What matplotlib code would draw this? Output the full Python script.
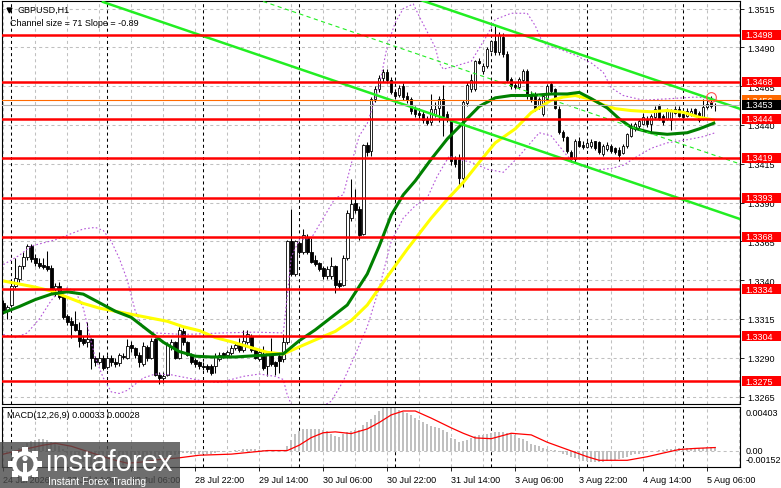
import numpy as np
import matplotlib
matplotlib.use('Agg')
import matplotlib.pyplot as plt
from matplotlib.patches import Rectangle, Circle

plt.rcParams['font.family'] = ['Liberation Sans', 'DejaVu Sans']
plt.rcParams['lines.scale_dashes'] = False

# ─── Candles: GBPUSD H1, 24 Jul 22:00 -> 5 Aug 08:00 (pips above 1.3000) ──────
BASE = 1.3
opens = [325, 320, 324, 336, 341, 349, 355, 362, 354, 351,
         350, 349, 348, 334, 336, 330, 317, 314, 312, 308,
         302, 300, 302, 290, 287, 290, 284, 290, 287.5, 286.5,
         291, 290, 298, 296, 292, 286, 297, 290, 302, 279,
         277, 279, 297, 300, 290, 307, 300, 292, 288.5, 287,
         285, 285, 285, 285, 289, 293, 292, 293, 296, 298.5,
         295, 300, 304, 295, 289, 292, 285, 292, 287, 291,
         289, 300, 365, 344, 364, 358, 368, 358, 353, 351,
         348, 343, 343, 349, 338, 337, 354.5, 380, 390, 386,
         370, 427, 423, 457, 463, 470, 474, 469, 461, 459.5,
         465, 459, 457, 450, 448, 447, 444, 442, 447, 451,
         457, 447, 443, 418, 419, 406, 454, 463, 463, 481,
         475, 478, 488, 494, 487, 497, 486, 469.5, 466, 464.5,
         469, 475, 460, 460, 452.5, 447, 456.7, 466.4, 463, 450,
         435.3, 432, 422.4, 418, 430, 427, 426, 426.5, 429.5, 428.8,
         421.5, 424.5, 426.5, 425, 424, 422, 426.7, 433, 437.4, 439.6,
         440.7, 444, 440.7, 445, 452.5, 446, 444, 443, 448, 450.3,
         447, 446, 447, 450, 448, 444, 451.4, 455, 453]
highs = [327, 324, 339, 354, 350, 358, 363, 363, 357, 354,
         354, 359, 350, 338, 339, 331, 318, 316, 320, 313,
         304, 313, 303, 291, 294, 292, 292, 292, 290, 293,
         293, 302, 301, 297, 294, 300, 298, 303, 303, 281,
         281, 300, 302, 301, 310, 309, 301, 293, 290, 288,
         287, 286, 286, 293, 294, 294, 295, 298, 300, 303,
         308, 308, 305, 296, 295, 297.5, 294, 303, 288, 294,
         305, 366, 386, 366, 365, 373, 370, 367, 356, 352,
         349, 349, 355, 350, 340, 356, 385, 405, 399, 388,
         428, 429, 458, 465, 472, 476, 476, 471, 463, 466,
         467, 461, 458, 452, 451, 449, 446, 460, 455, 459,
         466, 449, 444, 420, 421, 456, 468, 473, 482, 483,
         480, 490, 495, 504, 500, 499, 488, 471, 468, 471,
         476, 476, 462, 461, 458, 460, 466.5, 468, 464, 452,
         437, 433, 424, 431, 432, 429.5, 430, 431, 430, 429.5,
         428, 429, 427.5, 426, 426, 428, 435, 441, 442, 444,
         448, 446, 447, 452, 453.6, 447, 451, 450, 452, 452,
         448, 451, 451, 451, 449, 457, 457, 459, 454]
lows = [318, 315, 323, 335, 339, 347, 353, 352, 349, 348,
        347, 346, 332, 330, 328, 315, 311, 303, 307, 297,
        298, 297, 283, 285, 286, 282, 283, 285, 284, 285,
        289, 289, 294, 290, 284, 285, 288, 289, 278, 273,
        274, 278, 295, 289, 289, 298, 291, 286, 284, 283,
        282, 281, 279, 280, 288, 290, 290, 292, 295, 294,
        294, 299, 294, 289, 288, 282, 278, 285, 279, 280,
        287, 299, 343, 343, 357, 357, 357, 351, 349, 346,
        341, 341, 341, 332, 334, 336, 353, 378, 383, 366,
        369, 420, 420, 455, 461, 468, 467, 460, 457, 458,
        456, 454, 447, 445, 444, 441, 440, 440, 445, 442,
        433, 442, 414, 413, 401, 400, 452, 461, 462, 479,
        473, 477, 487, 485, 485, 484, 468, 463, 463, 463,
        468, 457, 455, 449, 450, 446, 455, 460, 450, 434,
        430, 422, 416, 416, 426, 424.5, 425, 425, 424, 421,
        420, 423, 422, 421, 417, 421, 425, 432, 436, 438,
        440, 439, 435, 444, 443, 440, 443, 437, 447, 445,
        442, 445, 446, 446, 442, 443, 450, 451, 449]
closes = [319.5, 323, 336, 341.5, 349, 355, 362, 353.5, 351, 349,
          348.5, 347, 333.5, 336, 329, 316.5, 313, 311, 308, 301,
          299.5, 302, 290, 287, 290, 283.5, 290, 287, 286, 292,
          290.5, 297.5, 296, 292, 287, 297.5, 290, 301, 279, 277,
          278.5, 298.5, 300, 290, 308, 300, 292, 287, 286, 285,
          284, 282.5, 280, 291, 292, 291, 294, 296.5, 298.5, 295,
          301, 305, 295, 290, 294, 283.5, 293, 286, 285, 288,
          300, 365, 344, 365, 358, 369, 358, 352, 350.5, 347.5,
          343, 347.5, 349, 337, 336.5, 354.5, 383, 389, 385, 369,
          427, 422.5, 457, 463, 470.5, 474, 469, 461, 459, 464,
          458, 456, 449, 447, 446.5, 443, 441, 450, 450.5, 457,
          446, 444, 416.5, 415, 406, 454.5, 466, 469, 481, 480,
          478, 489, 494, 487, 498, 486, 469, 465, 464.5, 469.5,
          475, 459, 457, 451, 456.7, 459, 465.4, 462, 451, 435.3,
          432, 423.5, 418, 430, 426.7, 426, 428.5, 429, 425, 422.4,
          426.5, 427, 423.5, 422.5, 420.5, 426.7, 434, 439.6, 440.7, 442.8,
          445, 440.7, 446, 450.3, 444, 441.7, 449.3, 449.3, 450.3, 446,
          445, 449, 449, 447, 443, 451.4, 453.6, 452.5, 453]

# ─── Indicators (bar index, pips) ─────────────────────────────────────────────
green_bars = [0, 4, 8, 12, 16, 20, 24, 28, 32, 36, 40, 44, 48, 52, 58, 64, 70, 74, 78, 82,
              86, 89, 91, 94, 97, 100, 103, 107, 111, 115, 119, 123, 127, 132, 137, 141,
              144, 147, 151, 154, 157, 162, 166, 171, 174, 178]
green_vals = [319, 323, 327.5, 331, 332.5, 331, 325.5, 320, 316, 308, 300, 294, 291, 290.5,
              290.5, 291.5, 292.5, 301, 308, 316, 324, 336, 344, 362, 382, 395, 404, 418,
              431, 441.5, 452, 457.5, 459, 459, 460, 460, 461, 457, 451, 444, 438.5, 435,
              434, 435, 437.5, 441.5]
yellow_bars = [0, 4, 8, 12, 16, 20, 24, 28, 32, 36, 41, 45, 49, 53, 57.5, 62, 66, 70, 74, 78,
               83, 87, 91, 94, 97.5, 101, 104, 107, 111, 115, 119, 123, 128, 132, 137, 140,
               143, 147, 150, 153, 157, 162, 166, 170, 174, 178]
yellow_vals = [339.5, 337.5, 335.5, 333, 329, 325, 322, 320, 318, 316, 313.5, 310, 307.5, 303,
               300, 296.5, 293.5, 292.4, 297, 301.5, 307, 314, 324, 335, 347.5, 360, 370,
               380, 392, 403, 416, 428.5, 437.5, 448, 456, 458, 459, 456.5, 453, 450.5,
               449.3, 448.5, 449.3, 448.2, 445, 443]
ub_bars = [0, 4, 7, 10, 13, 17, 20, 23, 25, 27, 29, 31, 33, 35, 38, 45, 55, 63, 70, 71,
           72, 74, 77, 80, 83, 85, 87, 89, 91, 94, 96, 98, 100, 102.5, 104, 106, 108, 109,
           110, 113, 117, 121, 123, 127, 131, 133, 134.5, 136, 139, 143, 147, 150, 152,
           155, 160, 167, 173, 178]
ub_vals = [350, 356, 362, 364, 366, 370, 373, 374, 372, 365, 354, 340, 320, 309, 306, 305,
           306, 306.5, 306, 330, 355, 366, 367, 380, 393, 395, 415, 433, 441, 465, 491, 506,
           515, 518, 510, 500, 490, 480, 476, 478, 481, 498, 508, 512, 512, 504, 495, 491,
           489, 485, 480, 474, 464, 459, 456, 457, 458, 457]
lb_bars = [0, 3, 6, 9, 12, 14, 16, 18, 20, 22, 23, 25, 27, 29, 31, 33, 35, 38, 42, 46,
           50, 54, 60, 64, 68, 70, 71, 72, 74, 77, 80, 82, 85, 88, 91, 94, 97, 100, 103,
           106, 108.5, 111.5, 113.5, 117, 121, 125, 129, 132, 134, 137, 141, 144, 148,
           152, 155, 158, 162, 166, 171, 175, 178]
lb_vals = [305, 303, 306, 315, 327, 333, 335, 333, 322, 300, 290, 277, 268, 267, 269, 273,
           277, 279.5, 279, 277, 275, 274, 278, 279.5, 278, 276, 266, 260, 256, 257, 259,
           262, 275, 292, 310, 335, 365, 380, 388, 393, 407, 420, 418, 416, 411.5, 409.5,
           420, 429, 435, 433, 420, 414, 411, 412, 414, 419, 425, 428.5, 430.5, 432.5, 435]

# MACD(12,26,9): histogram per bar and signal line, in 1e-5
macd_hist = [-20, -25, -15, 5, 25, 45, 70, 90, 100, 105,
             105, 100, 80, 60, 40, 10, -20, -45, -65, -90,
             -110, -122, -138, -146, -150, -152, -150, -147, -143, -138,
             -130, -118, -108, -100, -95, -82, -76, -62, -66, -70,
             -68, -55, -46, -44, -30, -25, -25, -28, -30, -30,
             -30, -28, -28, -20, -15, -12, -8, -3, 2, 5,
             10, 15, 15, 10, 8, 2, 3, 2, 0, -2,
             3, 40, 100, 150, 180, 195, 200, 200, 200, 198,
             190, 180, 155, 135, 125, 150, 170, 180, 188, 190,
             235, 260, 295, 330, 370, 395, 403, 400, 393, 376,
             355, 343, 325, 305, 280, 260, 243, 230, 222, 205,
             190, 170, 120, 105, 77, 85, 95, 120, 135, 143,
             147, 150, 160, 168, 176, 170, 160, 150, 140, 120,
             105, 93, 65, 55, 38, 25, 17, 8, 3, -15,
             -30, -45, -60, -70, -82, -92, -100, -105, -107, -107,
             -105, -100, -92, -85, -75, -68, -60, -45, -35, -30,
             -22, -15, -8, -2, 3, 6, 10, 15, 17, 20,
             23, 27, 28, 27, 25, 28, 30, 32, 33]
sig_bars = [0, 5, 10, 13, 17, 22, 27, 31, 35, 39, 44, 49, 57, 66, 71, 74, 77, 80, 83, 87,
            91, 94, 97, 100, 103, 107, 112, 115, 118, 122, 127, 132, 136, 141, 146, 149,
            156, 161, 165, 169, 173, 178]
sig_vals = [-33, 10, 50, 67, 40, -20, -80, -117, -105, -83, -67, -43, -33, 0, 0, 50, 120,
            165, 173, 157, 200, 260, 330, 366, 366, 300, 210, 160, 117, 110, 160, 145, 77,
            10, -57, -90, -90, -57, -23, 10, 20, 28]

# ─── Levels, channel and labels ───────────────────────────────────────────────
red_levels = [1.3498, 1.3468, 1.3444, 1.3419, 1.3393, 1.3368, 1.3334, 1.3304, 1.3275]
orange_level = 1.3456
bid = 1.3453
price_ticks = [1.3515, 1.3490, 1.3465, 1.3440, 1.3415, 1.3390, 1.3365,
               1.3340, 1.3315, 1.3290, 1.3265]
chan_bars = [24.9, 184.2]
chan_lower = [1.35193, 1.33794]
CHANNEL_SIZE = 0.0071
marker_bar, marker_price = 176.9, 1.3458

day_bars = [2, 26, 50, 74, 98, 122, 146, 170]
time_bars = [0, 16, 32, 48, 64, 80, 96, 112, 128, 144, 160, 176]
time_labels = ['24 Jul 2026', '27 Jul 14:00', '28 Jul 06:00', '28 Jul 22:00',
               '29 Jul 14:00', '30 Jul 06:00', '30 Jul 22:00', '31 Jul 14:00',
               '3 Aug 06:00', '3 Aug 22:00', '4 Aug 14:00', '5 Aug 06:00']

def to_price(p):
    return BASE + np.asarray(p, dtype=float) / 10000

o, h, l, c = (to_price(v) for v in (opens, highs, lows, closes))
x = np.arange(len(o))

# ─── Figure / axes in pixel frame ─────────────────────────────────────────────
W, H = 781, 489
fig = plt.figure(figsize=(W / 100, H / 100), dpi=100)

def frame(x0, y0, x1, y1):
    return [x0 / W, 1 - y1 / H, (x1 - x0) / W, (y1 - y0) / H]

ax = fig.add_axes(frame(2, 2, 740, 405))
ax2 = fig.add_axes(frame(2, 408, 740, 468))
XLIM = (-0.33, 184.2)
YLIM = (1.32602, 1.35199)

FS = 6.5
GRID = dict(color='#c0c0c0', lw=0.75, ls=(0, (2.2, 2.2)), zorder=0.5)
SEP = dict(color='black', lw=0.75, ls=(0, (2.2, 2.2)), zorder=0.6)

for a in (ax, ax2):
    a.set_xlim(*XLIM)
    for gb in range(0, 185, 8):
        a.axvline(gb, **GRID)
    for db in day_bars:
        a.axvline(db, **SEP)
    for s in a.spines.values():
        s.set_color('black')
        s.set_linewidth(0.8)

# main panel
ax.set_ylim(*YLIM)
for t in price_ticks:
    ax.axhline(t, **GRID)

up = c >= o
ax.vlines(x, l, h, color='black', lw=0.75, zorder=2)
body_lo = np.minimum(o, c)
body_h = np.maximum(np.abs(c - o), 0.00002)
ax.bar(x, body_h, bottom=body_lo, width=0.62,
       color=np.where(up, 'white', 'black'), edgecolor='black', linewidth=0.6, zorder=2.1)

ax.plot(ub_bars, to_price(ub_vals), color='#b455d8', lw=0.8, ls=(0, (1.2, 1.6)), zorder=2.5)
ax.plot(lb_bars, to_price(lb_vals), color='#b455d8', lw=0.8, ls=(0, (1.2, 1.6)), zorder=2.5)
ax.plot(yellow_bars, to_price(yellow_vals), color='#ffff00', lw=2.2, zorder=3, solid_capstyle='butt')
ax.plot(green_bars, to_price(green_vals), color='#008000', lw=2.2, zorder=3.1, solid_capstyle='butt')

lower = np.array(chan_lower)
ax.plot(chan_bars, lower, color='#22ee22', lw=1.8, zorder=3.5)
ax.plot(chan_bars, lower + CHANNEL_SIZE, color='#22ee22', lw=1.8, zorder=3.5)
ax.plot(chan_bars, lower + CHANNEL_SIZE / 2, color='#22ee22', lw=0.8,
        ls=(0, (3, 2.5)), zorder=3.5)

ax.axhline(bid, color='#b4b4b4', lw=0.8, zorder=3.8)
ax.axhline(orange_level, color='#ff6a00', lw=0.8, zorder=3.9)
for lvl in red_levels:
    ax.axhline(lvl, color='#ff0000', lw=1.8, zorder=4)

ax.plot(marker_bar, marker_price, marker='o', ms=7, mfc='none', mec='#ff5050', mew=0.8, zorder=6)

ax.set_xticks([])
ax.yaxis.tick_right()
ax.set_yticks(price_ticks)
ax.set_yticklabels([f'{t:.4f}' for t in price_ticks])
ax.tick_params(axis='y', length=3, width=0.6, pad=2.5, labelsize=FS, colors='black')

ytr = ax.get_yaxis_transform()
box_h = 10 * (YLIM[1] - YLIM[0]) / 403

def price_tag(level, face, zo):
    ax.add_patch(Rectangle((1 + 2 / 738, level - box_h / 2), 41 / 738, box_h, transform=ytr,
                           clip_on=False, facecolor=face, edgecolor='none', zorder=zo))
    ax.text(1 + 5 / 738, level, f'{level:.4f}', transform=ytr, color='white', fontsize=FS,
            va='center', ha='left', clip_on=False, zorder=zo + 0.05)

for lvl in red_levels:
    price_tag(lvl, '#ff0000', 7)
price_tag(orange_level, '#ff6a00', 7.2)
price_tag(bid, 'black', 7.4)

# MACD panel
ax2.set_ylim(-0.00152, 0.00403)
ax2.axhline(0, **GRID)
ax2.bar(x, np.array(macd_hist) * 1e-5, width=0.55, color='#c0c0c0', zorder=2)
ax2.plot(sig_bars, np.array(sig_vals) * 1e-5, color='#ff0000', lw=0.9, zorder=3)
ax2.set_yticks([])
ax2.set_xticks(time_bars)
ax2.set_xticklabels(time_labels)
for lab in ax2.get_xticklabels():
    lab.set_ha('left')
ax2.tick_params(axis='x', length=3, width=0.6, pad=2.5, labelsize=FS, colors='black')
for frac, txt in [(0.9, '0.00403'), (0.274, '0.00'), (0.117, '-0.00152')]:
    ax2.text(1 + 6 / 738, frac, txt, transform=ax2.transAxes, fontsize=FS,
             va='center', ha='left', clip_on=False)

# ─── Overlay: titles and logo ─────────────────────────────────────────────────
ov = fig.add_axes([0, 0, 1, 1])
ov.set_xlim(0, W)
ov.set_ylim(H, 0)
ov.axis('off')
ov.plot(9, 10.5, marker='v', ms=3.5, color='black')
ov.text(17, 10.7, 'GBPUSD,H1', fontsize=FS, va='center')
ov.text(10, 24, 'Channel size = 71 Slope = -0.89', fontsize=FS, va='center')
ov.text(7, 416, 'MACD(12,26,9) 0.00033 0.00028', fontsize=FS, va='center')

ov.add_patch(Rectangle((0, 443), 180, 46, facecolor='#4a4a4a', alpha=0.8, edgecolor='none'))
for ang in np.arange(0, 360, 45):
    r = np.deg2rad(ang)
    ov.plot(25 + 14 * np.cos(r), 465 + 14 * np.sin(r), marker='s', ms=4.5, color='white',
            markeredgewidth=0)
ov.add_patch(Circle((25, 465), 13, facecolor='white', edgecolor='none'))
ov.add_patch(Circle((25, 465), 8.5, facecolor='#6a6a6a', edgecolor='none'))
ov.add_patch(Circle((25, 459.5), 2.6, facecolor='white', edgecolor='none'))
ov.add_patch(Rectangle((22.8, 463.5), 4.4, 10, facecolor='white', edgecolor='none'))
ov.text(46, 471, 'instaforex', color='white', fontsize=21, va='baseline', ha='left')
ov.text(48, 482, 'Instant Forex Trading', color='white', fontsize=7.5, va='center', ha='left')

fig.savefig('out.png', dpi=100)
